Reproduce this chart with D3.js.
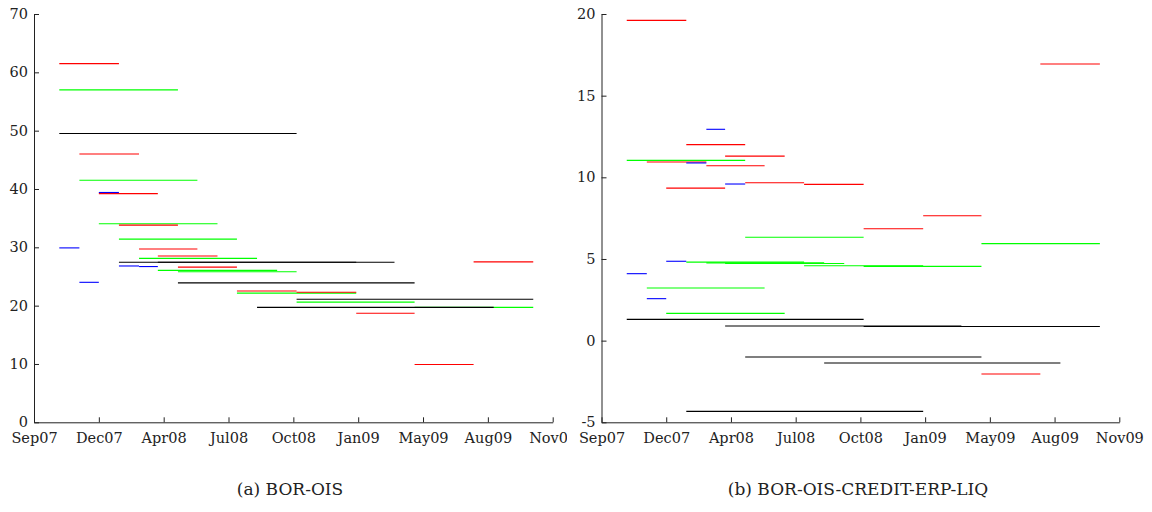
<!DOCTYPE html>
<html>
<head>
<meta charset="utf-8">
<script src="https://cdn.jsdelivr.net/npm/d3@7"></script>
<style>
  html, body { margin: 0; padding: 0; background: #fff; }
  svg { display: block; }
</style>
</head>
<body>
<svg id="chart" width="1152" height="512"></svg>
<script>
// ---- Data ----
// x-axis tick labels (ticks every 100 days, MATLAB datetick style)
const xTickLabels = ["Sep07", "Dec07", "Apr08", "Jul08", "Oct08", "Jan09", "May09", "Aug09", "Nov09"];
const xTickDays = [0, 100, 200, 300, 400, 500, 600, 700, 800];
const leftYTicks = [0, 10, 20, 30, 40, 50, 60, 70];
const rightYTicks = [-5, 0, 5, 10, 15, 20];
const captions = ["(a) BOR-OIS", "(b) BOR-OIS-CREDIT-ERP-LIQ"];

// segments: [start month, end month, value]
// Panel (a) BOR-OIS
const aBlue = [
  ["2007-10", "2007-11", 29.9], ["2007-11", "2007-12", 24.0], ["2007-12", "2008-01", 39.4],
  ["2008-01", "2008-02", 26.8], ["2008-02", "2008-03", 26.7]
];
const aRed = [
  ["2007-10", "2008-01", 61.5], ["2007-11", "2008-02", 46.0], ["2007-12", "2008-03", 39.2],
  ["2008-01", "2008-04", 33.8], ["2008-02", "2008-05", 29.7], ["2008-03", "2008-06", 28.5],
  ["2008-04", "2008-07", 26.6], ["2008-07", "2008-10", 22.5], ["2008-10", "2009-01", 22.3],
  ["2009-01", "2009-04", 18.7], ["2009-04", "2009-07", 9.9], ["2009-07", "2009-10", 27.5]
];
const aGreen = [
  ["2007-10", "2008-04", 57.0], ["2007-11", "2008-05", 41.5], ["2007-12", "2008-06", 34.05],
  ["2008-01", "2008-07", 31.4], ["2008-02", "2008-08", 28.1], ["2008-03", "2008-09", 26.05],
  ["2008-04", "2008-10", 25.8], ["2008-07", "2009-01", 22.15], ["2008-10", "2009-04", 20.6],
  ["2009-04", "2009-10", 19.7]
];
const aBlack = [
  ["2007-10", "2008-10", 49.5], ["2008-01", "2009-01", 27.45], ["2008-03", "2009-03", 27.45],
  ["2008-04", "2009-04", 23.9], ["2008-08", "2009-08", 19.7], ["2008-10", "2009-10", 21.1]
];
// Panel (b) BOR-OIS-CREDIT-ERP-LIQ
const bBlue = [
  ["2007-10", "2007-11", 4.10], ["2007-11", "2007-12", 2.57], ["2007-12", "2008-01", 4.86],
  ["2008-01", "2008-02", 10.88], ["2008-02", "2008-03", 12.94], ["2008-03", "2008-04", 9.59]
];
const bRed = [
  ["2007-10", "2008-01", 19.61], ["2007-11", "2008-02", 10.94], ["2007-12", "2008-03", 9.34],
  ["2008-01", "2008-04", 12.0], ["2008-02", "2008-05", 10.71], ["2008-03", "2008-06", 11.30],
  ["2008-04", "2008-07", 9.67], ["2008-07", "2008-10", 9.57], ["2008-10", "2009-01", 6.85],
  ["2009-01", "2009-04", 7.65], ["2009-04", "2009-07", -2.04], ["2009-07", "2009-10", 16.94]
];
const bGreen = [
  ["2007-10", "2008-04", 11.04], ["2007-11", "2008-05", 3.22], ["2007-12", "2008-06", 1.67],
  ["2008-01", "2008-07", 4.81], ["2008-02", "2008-08", 4.76], ["2008-03", "2008-09", 4.72],
  ["2008-04", "2008-10", 6.33], ["2008-07", "2009-01", 4.59], ["2008-10", "2009-04", 4.55],
  ["2009-04", "2009-10", 5.94]
];
const bBlack = [
  ["2007-10", "2008-10", 1.30], ["2008-01", "2009-01", -4.33], ["2008-03", "2009-03", 0.90],
  ["2008-04", "2009-04", -1.0], ["2008-08", "2009-08", -1.37], ["2008-10", "2009-10", 0.87]
];

// ---- Drawing ----
const FONT = "'DejaVu Serif', 'Liberation Serif', serif";
const svg = d3.select("#chart");
const DAY = 86400000;
const base = Date.UTC(2007, 8, 15);
const monthDate = s => { const [y, m] = s.split("-").map(Number); return new Date(Date.UTC(y, m - 1, 24)); };

const panels = [
  { x0: 34, x1: 552.7, y0: 422.3, y1: 14, domain: [0, 70], yTicks: leftYTicks,
    series: [[aGreen, "#00ff00"], [aRed, "#ff0000"], [aBlue, "#0000ff"], [aBlack, "#000000"]],
    caption: captions[0], capX: 290, clip: true },
  { x0: 601.5, x1: 1119.3, y0: 422.3, y1: 14, domain: [-5, 20], yTicks: rightYTicks,
    series: [[bGreen, "#00ff00"], [bRed, "#ff0000"], [bBlue, "#0000ff"], [bBlack, "#000000"]],
    caption: captions[1], capX: 858, clip: false }
];

svg.append("defs").append("clipPath").attr("id", "clipA").append("rect")
  .attr("x", 0).attr("y", 0).attr("width", 567).attr("height", 512);

panels.forEach(p => {
  const g = svg.append("g");
  if (p.clip) g.attr("clip-path", "url(#clipA)");
  const x = d3.scaleUtc().domain([new Date(base), new Date(base + 800 * DAY)]).range([p.x0, p.x1]);
  const y = d3.scaleLinear().domain(p.domain).range([p.y0, p.y1]);

  p.series.forEach(([segs, color]) => {
    g.append("g").selectAll("line").data(segs).join("line")
      .attr("x1", d => x(monthDate(d[0])))
      .attr("x2", d => x(monthDate(d[1])))
      .attr("y1", d => y(d[2]))
      .attr("y2", d => y(d[2]))
      .attr("stroke", color)
      .attr("stroke-width", 1.1);
  });

  const tickDates = xTickDays.map(d => new Date(base + d * DAY));
  const xAxis = d3.axisBottom(x).tickValues(tickDates)
    .tickFormat((d, j) => xTickLabels[j])
    .tickSizeInner(-5).tickSizeOuter(0).tickPadding(10);
  const gx = g.append("g").attr("transform", `translate(0,${p.y0})`).call(xAxis);

  const yAxis = d3.axisLeft(y).tickValues(p.yTicks)
    .tickFormat(d => String(d).replace("\u2212", "-"))
    .tickSizeInner(-5).tickSizeOuter(0).tickPadding(6);
  const gy = g.append("g").attr("transform", `translate(${p.x0},0)`).call(yAxis);

  [gx, gy].forEach(a => {
    a.attr("font-family", FONT).attr("font-size", 14.5);
    a.selectAll("text").style("font-family", FONT).style("font-size", "14.5px").attr("fill", "#222");
    a.select(".domain").attr("stroke", "#222").attr("stroke-width", 1);
    a.selectAll(".tick line").attr("stroke", "#222").attr("stroke-width", 1);
  });

  svg.append("text").attr("x", p.capX).attr("y", 495)
    .attr("text-anchor", "middle")
    .style("font-family", FONT).style("font-size", "17px").attr("fill", "#222")
    .text(p.caption);
});
</script>
</body>
</html>
